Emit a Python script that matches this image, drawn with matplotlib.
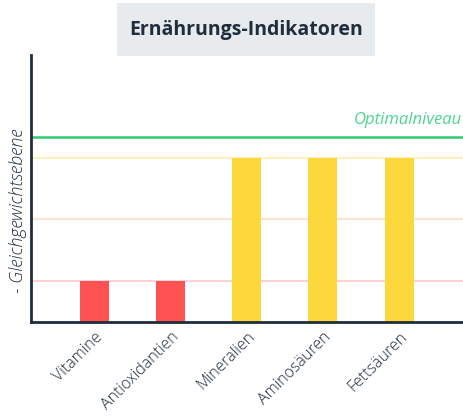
import matplotlib.pyplot as plt
from matplotlib.patches import Rectangle
import numpy as np

categories = ['Vitamine', 'Antioxidantien', 'Mineralien', 'Aminosäuren', 'Fettsäuren']
values = [2, 2, 8, 8, 8]
bar_colors = ['#ff5252', '#ff5252', '#fdd83c', '#fdd83c', '#fdd83c']

# reference levels
optimal_level = 9
level_lines = [8, 5, 2]
level_colors = ['#fdf1c2', '#fde2d6', '#fdd3d3']

plt.rcParams['font.family'] = ['Open Sans', 'DejaVu Sans']

fig = plt.figure(figsize=(4.64, 4.16), dpi=100)
ax = fig.add_axes([0.0668, 0.226, 0.931, 0.642])

x = np.arange(len(categories))
for lvl, c in zip(level_lines, level_colors):
    ax.axhline(lvl, color=c, lw=1.5, zorder=1)
ax.axhline(optimal_level, color='#2ecc71', lw=1.8, zorder=1)
ax.bar(x, values, width=0.38, color=bar_colors, zorder=2)

ax.text(4.83, optimal_level + 0.45, 'Optimalniveau', color='#4cd492', fontsize=12,
        style='italic', ha='right', va='bottom')

ax.set_xlim(-0.833, 4.838)
ax.set_ylim(0, 13)
ax.set_yticks([])
ax.set_xticks(x)
ax.set_xticklabels(categories, rotation=45, ha='right', rotation_mode='anchor',
                   fontsize=11.5, fontweight='light', color='#1f2d3d')
ax.tick_params(axis='x', length=0, pad=5)

for s in ['top', 'right']:
    ax.spines[s].set_visible(False)
for s in ['left', 'bottom']:
    ax.spines[s].set_color('#1e2d3d')
    ax.spines[s].set_linewidth(2)

fig.text(0.038, 0.493, '- Gleichgewichtsebene', fontsize=13, style='italic', fontweight='light',
         color='#1f2d3d', rotation=90, ha='center', va='center')

fig.patches.append(Rectangle((0.252, 0.865), 0.556, 0.127, transform=fig.transFigure,
                             facecolor='#e8ebed', edgecolor='none'))
fig.text(0.53, 0.929, 'Ernährungs-Indikatoren', fontsize=14, fontweight='bold',
         color='#1f2d3d', ha='center', va='center')

plt.savefig('out.png', dpi=100)
